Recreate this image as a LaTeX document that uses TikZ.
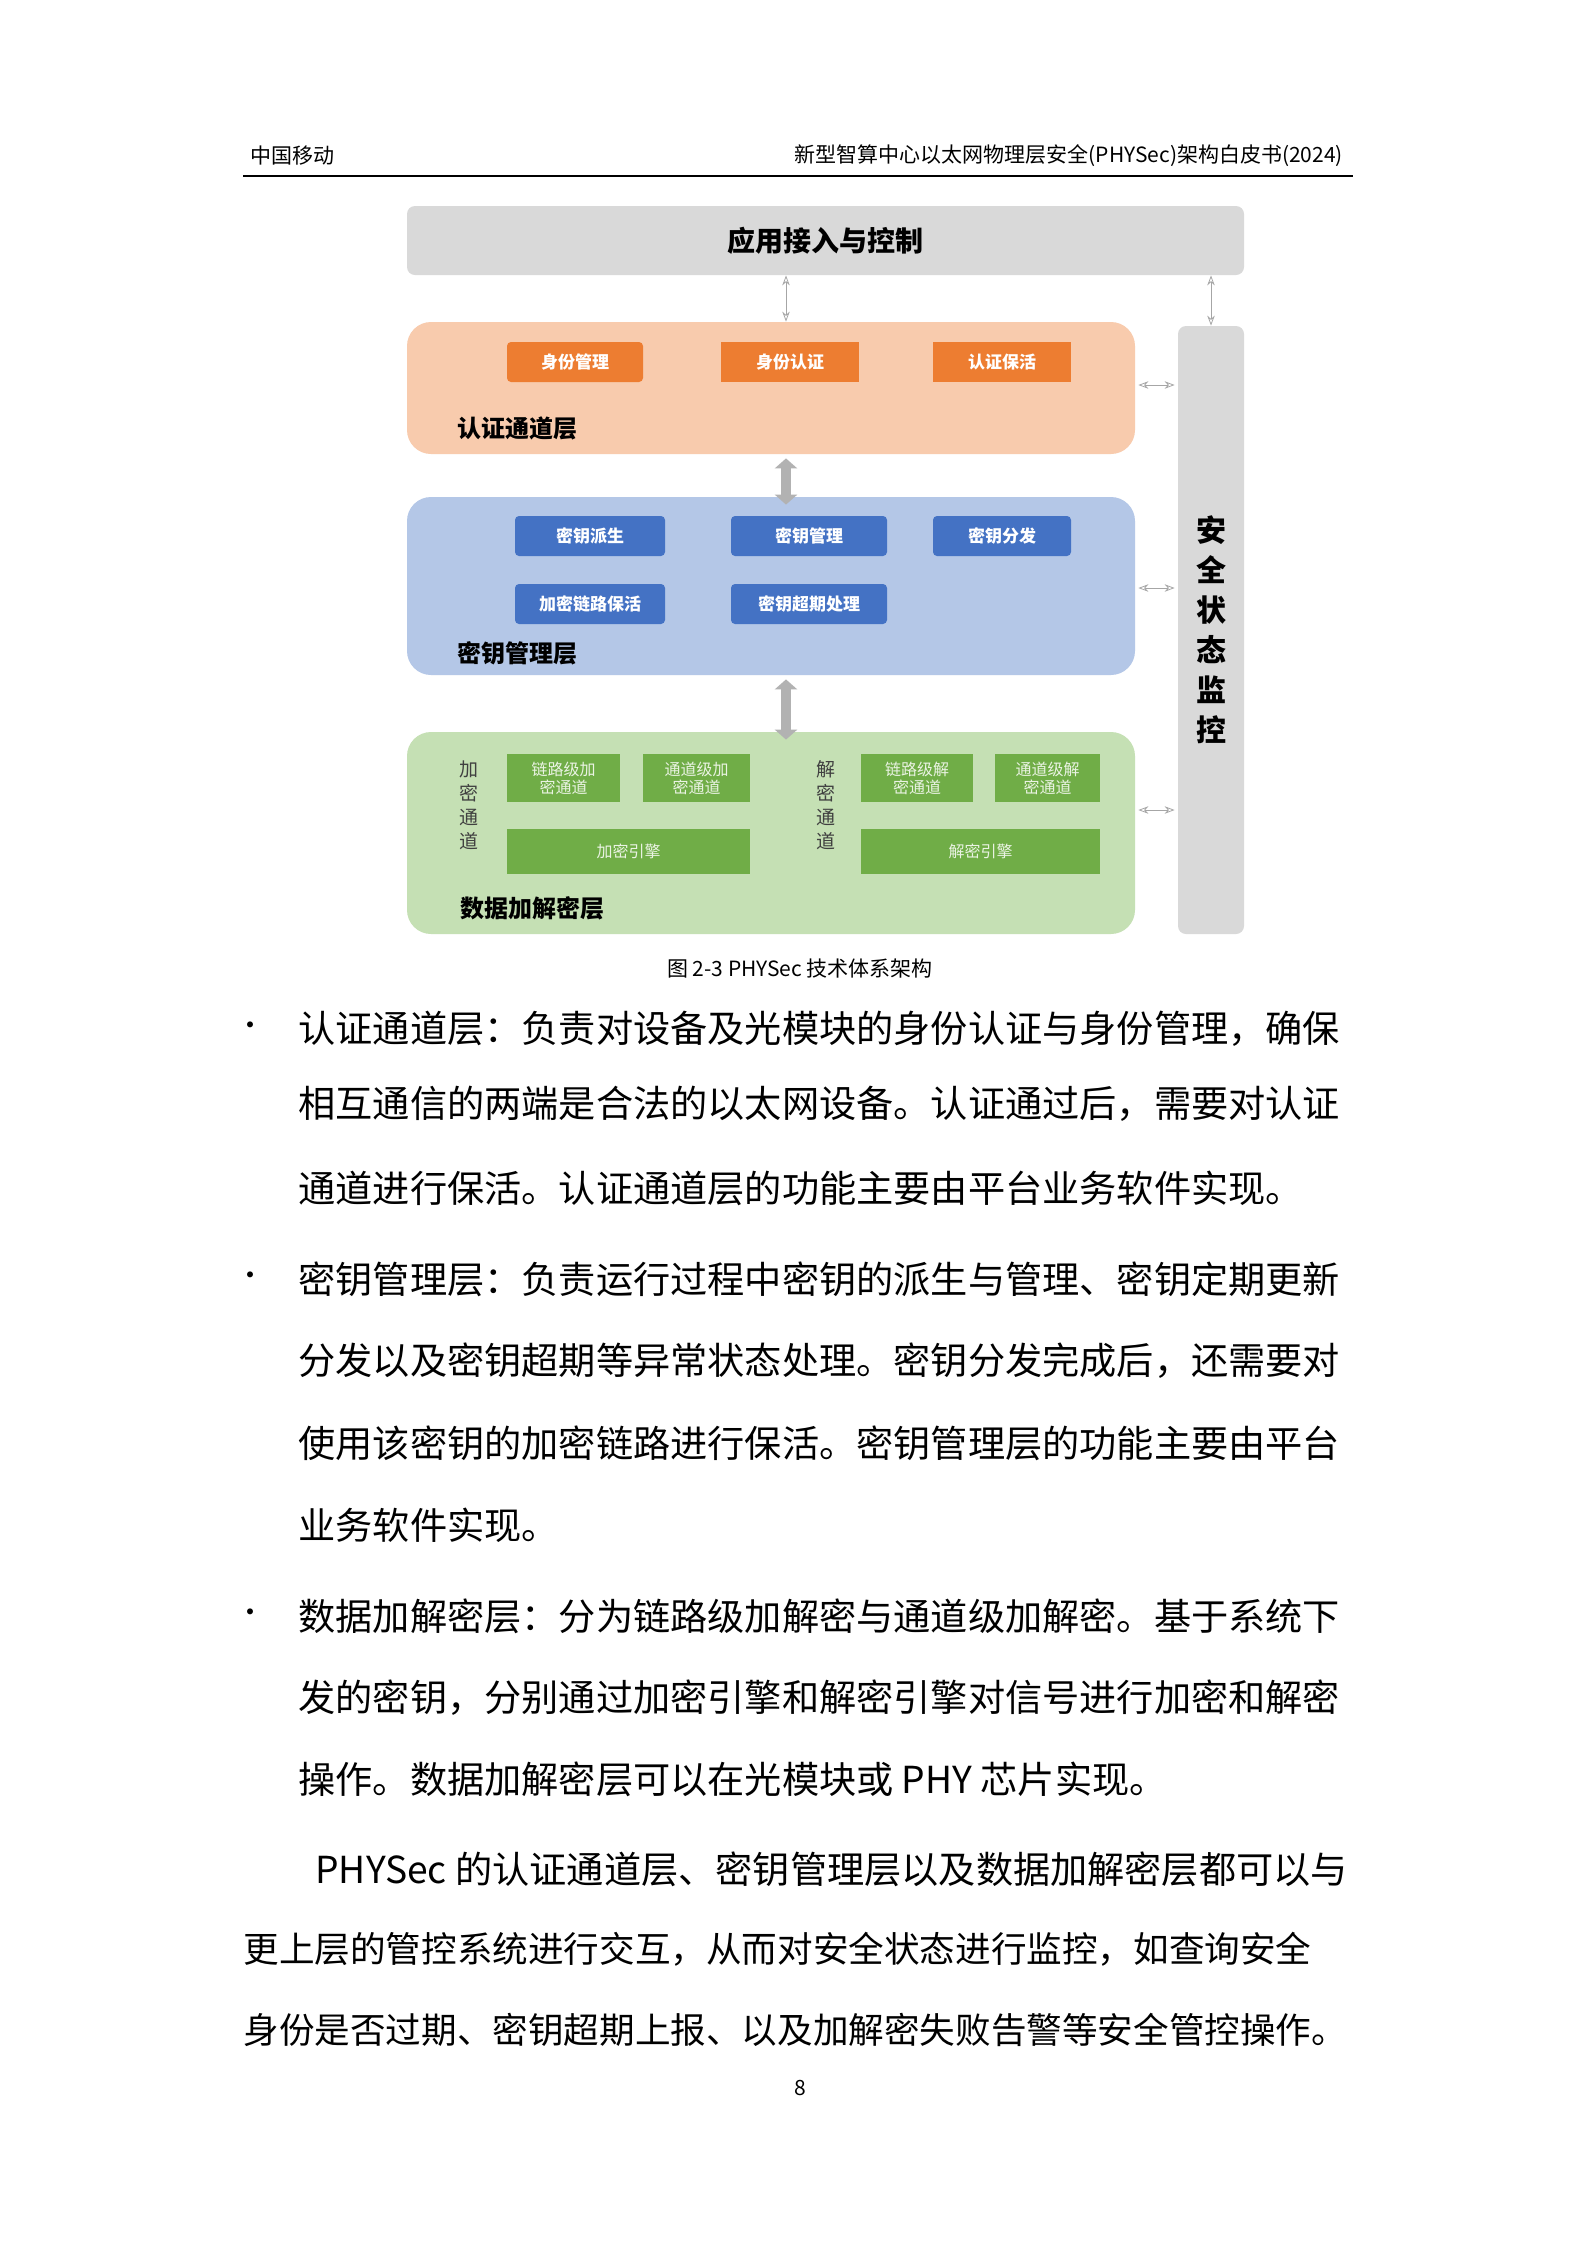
\documentclass[tikz,border=0pt]{standalone}
\usepackage{fontspec}
\setmainfont{Noto Sans CJK SC}
\usetikzlibrary{arrows.meta}
\definecolor{obg}{HTML}{F8CBAD}\definecolor{obox}{HTML}{ED7D31}
\definecolor{bbg}{HTML}{B4C7E7}\definecolor{bbox}{HTML}{4472C4}
\definecolor{gbg}{HTML}{C5E0B4}\definecolor{gbox}{HTML}{70AD47}
\definecolor{gr}{HTML}{D9D9D9}
\begin{document}
\begin{tikzpicture}[x=0.5pt,y=-0.5pt,
 layer/.style={draw=none,rounded corners=12pt},
 sbox/.style={draw=none,minimum height=20pt,inner sep=0pt,text=white,font=\fontsize{8.5}{10}\selectfont\bfseries},
 llabel/.style={anchor=west,font=\fontsize{12}{14}\selectfont\bfseries},
 body/.style={anchor=west,inner sep=0pt,font=\fontsize{18.6}{22}\selectfont},
 bodys/.style={anchor=west,inner sep=0pt,font=\fontsize{17.8}{22}\selectfont},
 thin/.style={gray!70,{Stealth[open,length=5pt]}-{Stealth[open,length=5pt]}},
 thick/.style={gray!60,line width=5pt,{Triangle[length=5pt,width=11pt]}-{Triangle[length=5pt,width=11pt]}}]
\useasboundingbox (0,0) rectangle (1586,2244);
\fill[white] (0,0) rectangle (1586,2244);
% header
\node[anchor=west,font=\fontsize{10.5}{12}\selectfont] (h1) at (243,156) {中国移动};
\node[anchor=east,font=\fontsize{10.5}{12}\selectfont] (h2) at (1350,156) {新型智算中心以太网物理层安全(PHYSec)架构白皮书(2024)};
\draw[line width=0.8pt] (243,176) -- (1353,176);
% diagram
\node[fill=gr,minimum width=418.5pt,minimum height=34.5pt,rounded corners=4pt,font=\fontsize{14}{16}\selectfont\bfseries] (top) at (825.5,240.5) {应用接入与控制};
\node[fill=gr,minimum width=33pt,minimum height=304pt,rounded corners=4pt,font=\fontsize{15}{20}\selectfont\bfseries,align=center] (mon) at (1211,630) {安\\全\\状\\态\\监\\控};
\node[layer,fill=obg,minimum width=364pt,minimum height=66pt] (L1) at (771,388) {};
\node[layer,fill=bbg,minimum width=364pt,minimum height=89pt] (L2) at (771,586) {};
\node[layer,fill=gbg,minimum width=364pt,minimum height=101pt] (L3) at (771,833) {};
\node[llabel] (t1) at (450,428) {认证通道层};
\node[llabel] (t2) at (450,653) {密钥管理层};
\node[llabel] (t3) at (453,908) {数据加解密层};
% orange
\node[sbox,fill=obox,minimum width=68pt,rounded corners=2pt] (o1) at (575,362) {身份管理};
\node[sbox,fill=obox,minimum width=69pt] (o2) at (790,362) {身份认证};
\node[sbox,fill=obox,minimum width=69pt] (o3) at (1002,362) {认证保活};
% blue
\node[sbox,fill=bbox,minimum width=75pt,rounded corners=2pt] (b1) at (590,536) {密钥派生};
\node[sbox,fill=bbox,minimum width=78pt,rounded corners=2pt] (b2) at (809,536) {密钥管理};
\node[sbox,fill=bbox,minimum width=69pt,rounded corners=2pt] (b3) at (1002,536) {密钥分发};
\node[sbox,fill=bbox,minimum width=75pt,rounded corners=2pt] (b4) at (590,604) {加密链路保活};
\node[sbox,fill=bbox,minimum width=78pt,rounded corners=2pt] (b5) at (809,604) {密钥超期处理};
% green
\tikzset{gsb/.style={sbox,fill=gbox,font=\fontsize{8}{9}\selectfont,text=white!85!gbox,align=center}}
\node[font=\fontsize{9.5}{12}\selectfont,align=center,text=black!75] (v1) at (469,805) {加\\密\\通\\道};
\node[font=\fontsize{9.5}{12}\selectfont,align=center,text=black!75] (v2) at (826,805) {解\\密\\通\\道};
\node[gsb,minimum width=56.5pt,minimum height=24pt] (g1) at (563.5,778) {链路级加\\密通道};
\node[gsb,minimum width=53.5pt,minimum height=24pt] (g2) at (696.5,778) {通道级加\\密通道};
\node[gsb,minimum width=121.5pt,minimum height=22.5pt] (g3) at (628.5,851.5) {加密引擎};
\node[gsb,minimum width=56pt,minimum height=24pt] (g4) at (917,778) {链路级解\\密通道};
\node[gsb,minimum width=52.5pt,minimum height=24pt] (g5) at (1047.5,778) {通道级解\\密通道};
\node[gsb,minimum width=119.5pt,minimum height=22.5pt] (g6) at (980.5,851.5) {解密引擎};
% arrows
\draw[thin] (top.south -| 786,0) -- (L1.north -| 786,0);
\draw[thin] (top.south -| mon) -- (mon.north);
\draw[thick] (L1.south -| 786,0) ++(0,4) -- ([yshift=-4pt]L2.north -| 786,0);
\draw[thick] (L2.south -| 786,0) ++(0,4) -- ([yshift=-4pt]L3.north -| 786,0);
\draw[thin] (L1.east |- 0,385) ++(3,0) -- ([xshift=-1.5pt]mon.west |- 0,385);
\draw[thin] (L2.east |- 0,588) ++(3,0) -- ([xshift=-1.5pt]mon.west |- 0,588);
\draw[thin] (L3.east |- 0,810) ++(3,0) -- ([xshift=-1.5pt]mon.west |- 0,810);
\node[font=\fontsize{10.5}{12}\selectfont] (cap) at (800,969) {图 2-3 PHYSec 技术体系架构};
% body text
\foreach \y in {1029,1279,1616} \node[font=\fontsize{14}{14}\selectfont] at (250,\y) {•};
\node[body] (l1) at (298,1029) {认证通道层：负责对设备及光模块的身份认证与身份管理，确保};
\node[body] (l2) at (298,1104) {相互通信的两端是合法的以太网设备。认证通过后，需要对认证};
\node[body] (l3) at (298,1188) {通道进行保活。认证通道层的功能主要由平台业务软件实现。};
\node[body] (l4) at (298,1279) {密钥管理层：负责运行过程中密钥的派生与管理、密钥定期更新};
\node[body] (l5) at (298,1361) {分发以及密钥超期等异常状态处理。密钥分发完成后，还需要对};
\node[body] (l6) at (298,1443) {使用该密钥的加密链路进行保活。密钥管理层的功能主要由平台};
\node[body] (l7) at (298,1525) {业务软件实现。};
\node[body] (l8) at (298,1616) {数据加解密层：分为链路级加解密与通道级加解密。基于系统下};
\node[body] (l9) at (298,1698) {发的密钥，分别通过加密引擎和解密引擎对信号进行加密和解密};
\node[body] (l10) at (298,1779) {操作。数据加解密层可以在光模块或 PHY 芯片实现。};
\node[body] (l11) at (315,1869) {PHYSec 的认证通道层、密钥管理层以及数据加解密层都可以与};
\node[bodys] (l12) at (243,1949) {更上层的管控系统进行交互，从而对安全状态进行监控，如查询安全};
\node[bodys] (l13) at (243,2030) {身份是否过期、密钥超期上报、以及加解密失败告警等安全管控操作。};
\node[font=\fontsize{10.5}{12}\selectfont] (pg) at (800,2088) {8};
\end{tikzpicture}
\end{document}
